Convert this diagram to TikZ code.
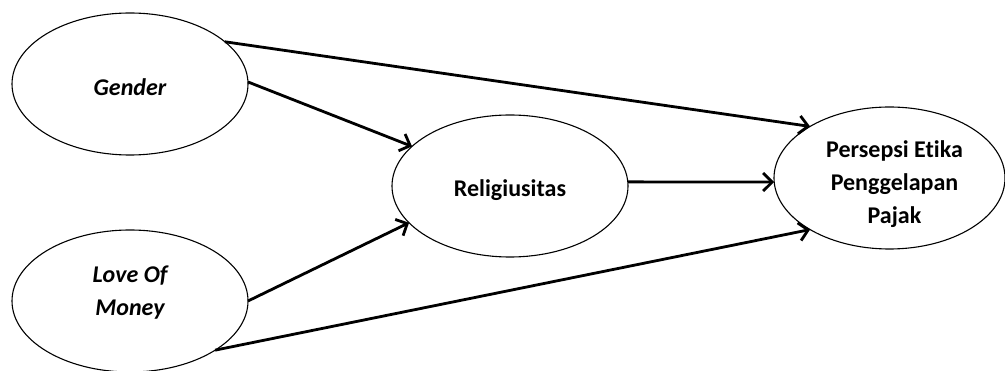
\documentclass[tikz,border=0pt]{standalone}
\usepackage{fontspec}
\setmainfont{Carlito}[Ligatures={NoCommon,NoRare,NoContextual}]
\usetikzlibrary{shapes.geometric,arrows.meta}
\begin{document}
\begin{tikzpicture}[x=1pt,y=-1pt,
  var/.style={draw,ellipse,line width=1.1pt,minimum width=236pt,minimum height=142pt,inner sep=0pt,outer sep=0pt},
  lbl/.style={inner sep=0pt,align=center,font=\fontsize{24}{33}\selectfont\bfseries},
  conn/.style={line width=2.8pt,-{Straight Barb[length=9pt,width=18pt,line width=2.8pt]}}]
\useasboundingbox (0,0) rectangle (1005,371);
\fill[white] (0,0) rectangle (1005,371);
\node[var] (g) at (130,84) {};
\node[var] (m) at (130,301) {};
\node[var] (r) at (510,186) {};
\node[var,minimum width=231pt] (p) at (889.5,178) {};
\node[lbl] (gt) at ([yshift=-3.5pt]g.center) {\itshape Gender};
\node[lbl] (mt) at ([yshift=8.5pt]m.center) {\itshape Love Of\\\itshape Money};
\node[lbl] (rt) at ([yshift=-4.5pt]r.center) {Religiusitas};
\node[lbl] (pt) at ([xshift=5pt,yshift=-6pt]p.center) {Persepsi Etika\\Penggelapan\\Pajak};
\draw[conn] (g.24.4) -- (p.147.3);
\draw[conn] (g.1) -- (r.158.8);
\draw[conn] (m.0.5) -- (r.200.7);
\draw[conn] (m.-30) -- (p.213.2);
\draw[conn] (r.2) -- (p.182);
\end{tikzpicture}
\end{document}
